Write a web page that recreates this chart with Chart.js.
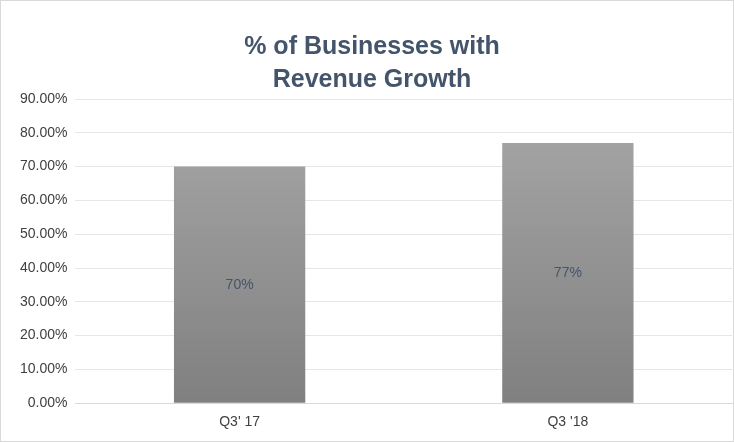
<!DOCTYPE html>
<html><head><meta charset="utf-8">
<script src="https://cdn.jsdelivr.net/npm/chart.js@4"></script>
<style>html,body{margin:0;padding:0;background:#fff}#w{width:732px;height:440px;border:1px solid #d9d9d9;position:relative}</style>
</head><body><div id="w"><canvas id="c"></canvas></div>
<script>
const categories = ["Q3' 17", "Q3 '18"];
const values = [0.70, 0.77];
const labels = ["70%", "77%"];
const titleLines = ["% of Businesses with", "Revenue Growth"];

const labelPlugin = {
  id: 'lbl',
  afterDatasetsDraw(chart) {
    const ctx = chart.ctx;
    const meta = chart.getDatasetMeta(0);
    ctx.save();
    ctx.font = '14px "Liberation Sans", Arial, sans-serif';
    ctx.fillStyle = '#44546a';
    ctx.textAlign = 'center'; ctx.textBaseline = 'middle';
    meta.data.forEach((b, i) => { ctx.fillText(labels[i], b.x, (b.y + b.base) / 2); });
    ctx.restore();
  }
};

new Chart(document.getElementById('c'), {
  type: 'bar',
  data: { labels: categories, datasets: [{ data: values,
    backgroundColor: (c) => {
      const a = c.chart.chartArea; if (!a) return '#999';
      const g = c.chart.ctx.createLinearGradient(0, a.top, 0, a.bottom);
      g.addColorStop(0, '#a8a8a8'); g.addColorStop(1, '#808080'); return g;
    },
    categoryPercentage: 0.4, barPercentage: 1.0 }] },
  options: {
    responsive: true, maintainAspectRatio: false, animation: false,
    layout: { padding: { left: 11, right: 1, top: 24, bottom: 7 } },
    plugins: {
      legend: { display: false }, tooltip: { enabled: false },
      title: { display: true, text: titleLines, color: '#44546a',
        font: { size: 25, weight: 'bold', family: '"Liberation Sans", Arial, sans-serif', lineHeight: 1.3 },
        padding: { top: 6, bottom: 3 } }
    },
    scales: {
      x: { grid: { display: false }, border: { color: '#d9d9d9' },
        ticks: { color: '#404040', font: { size: 14, family: '"Liberation Sans", Arial, sans-serif' } } },
      y: { min: 0, max: 0.9, grid: { color: '#e6e6e6', drawTicks: false }, border: { display: false },
        ticks: { stepSize: 0.1, padding: 8, color: '#404040', font: { size: 14, family: '"Liberation Sans", Arial, sans-serif' },
          callback: v => (v * 100).toFixed(2) + '%' } }
    }
  },
  plugins: [labelPlugin]
});
</script></body></html>
